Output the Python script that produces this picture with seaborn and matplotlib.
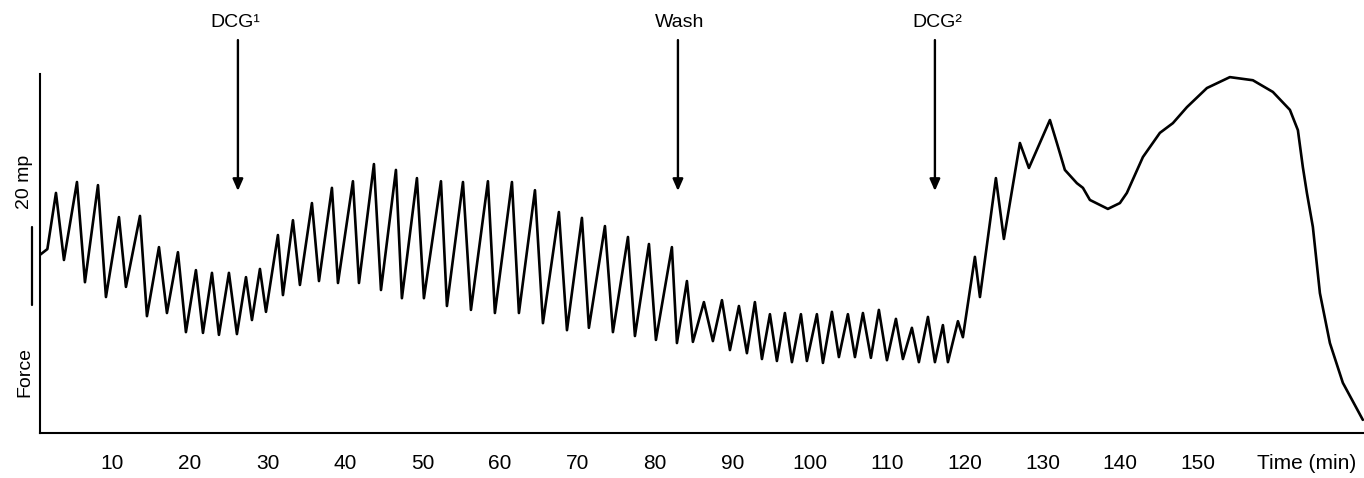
import numpy as np
import pandas as pd
import matplotlib
matplotlib.use("Agg")
import matplotlib.pyplot as plt
import seaborn as sns

# Trace: time in min, force in mp (peaks and troughs)
t_control = [0.7, 1.6, 2.71, 3.74, 5.42, 6.45, 8.13, 9.16, 10.84, 11.74, 13.55, 14.45,
             16.0, 17.03, 18.45, 19.48, 20.77, 21.68, 22.84, 23.74, 25.03, 26.06]
f_control = [45.0, 46.4, 60.8, 43.6, 63.6, 37.9, 62.8, 34.1, 54.6, 36.7, 54.9, 29.2,
             46.9, 30.0, 45.6, 25.1, 41.0, 24.9, 40.3, 24.4, 40.3, 24.6]

t_dcg1 = [27.23, 28.0, 29.03, 29.81, 31.35, 32.0, 33.29, 34.19, 35.74, 36.65,
          38.32, 39.1, 41.03, 41.81, 43.74, 44.65, 46.58, 47.35, 49.29, 50.19,
          52.39, 53.16, 55.23, 56.26, 58.45, 59.35, 61.55, 62.45, 64.52, 65.55,
          67.61, 68.65, 70.58, 71.48, 73.55, 74.58, 76.52, 77.42, 79.23, 80.13,
          82.19, 82.84]
f_dcg1 = [39.2, 28.2, 41.3, 30.3, 50.0, 34.6, 53.8, 37.2, 58.2, 38.2,
          62.1, 37.7, 63.8, 37.7, 68.2, 35.9, 66.7, 33.8, 64.6, 33.8,
          63.8, 31.8, 63.6, 30.8, 63.8, 30.0, 63.6, 30.0, 61.5, 27.4,
          55.9, 25.6, 54.4, 26.2, 52.3, 25.1, 49.5, 24.1, 47.7, 23.1,
          46.9, 22.3]

t_wash = [84.13, 84.9, 86.32, 87.48, 88.65, 89.68, 90.84, 91.87, 92.9, 93.81,
          94.84, 95.74, 96.77, 97.68, 98.84, 99.61, 100.9, 101.68, 102.84, 103.74,
          104.9, 105.81, 106.84, 107.87, 108.9, 109.94, 111.1, 112.0, 113.16, 114.06,
          115.23, 116.13]
f_wash = [38.2, 22.6, 32.8, 22.8, 33.3, 20.5, 31.8, 19.7, 32.8, 18.2,
          29.7, 17.7, 30.0, 17.4, 29.7, 17.7, 29.7, 17.2, 30.3, 18.7,
          29.7, 18.7, 30.0, 18.5, 30.8, 17.9, 28.5, 18.2, 26.2, 17.4,
          29.0, 17.4]

t_dcg2 = [117.16, 117.81, 119.1, 119.74, 121.29, 121.94, 124.0, 125.03, 127.1, 128.26,
          130.97, 131.87, 132.9, 134.45, 135.23, 136.13, 138.45, 140.0, 140.9, 142.97,
          145.16, 146.84, 148.65, 151.23, 154.19, 157.16, 159.74, 161.94, 162.97, 163.61,
          164.13, 164.9, 165.81, 167.1, 168.77, 171.35]
f_dcg2 = [26.9, 17.4, 27.9, 23.8, 44.4, 34.1, 64.6, 49.0, 73.6, 67.2,
          79.5, 73.6, 66.7, 63.3, 62.1, 59.0, 56.7, 58.2, 60.8, 70.0,
          76.2, 78.7, 82.8, 87.7, 90.5, 89.7, 86.7, 82.1, 76.9, 67.4,
          60.8, 52.1, 35.1, 22.3, 12.1, 2.6]

event_labels = ["DCG\u00b9", "Wash", "DCG\u00b2"]
event_times = [26.19, 82.97, 116.13]
event_label_times = [25.8, 83.2, 116.4]

tick_values = list(range(10, 180, 10))
tick_labels = [str(v) if v <= 150 else "" for v in tick_values]

df = pd.DataFrame({
    "time": np.concatenate([t_control, t_dcg1, t_wash, t_dcg2]),
    "force": np.concatenate([f_control, f_dcg1, f_wash, f_dcg2]),
})

sns.set_style("white")
plt.rcParams["font.family"] = ["Liberation Sans", "DejaVu Sans"]
plt.rcParams["text.color"] = "black"
plt.rcParams["xtick.color"] = "black"
plt.rcParams["ytick.color"] = "black"

fig = plt.figure(figsize=(13.64, 4.78), dpi=100)
ax = fig.add_axes([40 / 1364, 45 / 478, 1324 / 1364, 359 / 478])

sns.lineplot(data=df, x="time", y="force", ax=ax, color="black", lw=1.9,
             sort=False, estimator=None)
for ln in ax.lines:
    ln.set_solid_joinstyle("round")

ax.set_xlim(0.65, 171.5)
ax.set_ylim(-0.77, 91.3)
ax.set_xlabel("")
ax.set_ylabel("")
sns.despine(ax=ax)
for s in ["left", "bottom"]:
    ax.spines[s].set_linewidth(1.5)
    ax.spines[s].set_color("black")

ax.set_xticks(tick_values)
ax.set_xticklabels(tick_labels, fontsize=15)
ax.set_yticks([20, 40, 60, 80])
ax.set_yticklabels([])
ax.tick_params(axis="x", direction="in", length=3, width=1, pad=15)
ax.tick_params(axis="y", direction="in", length=3, width=1)

ax.text(164.1, -0.086, "Time (min)", transform=ax.get_xaxis_transform(),
        ha="center", va="center", fontsize=15)

# scale bar 20 mp and y labels
ax.plot([-0.39, -0.39], [32, 52], color="black", lw=1.6, clip_on=False)
ax.text(-1.3, 63.6, "20 mp", rotation=90, ha="center", va="center", fontsize=14)
ax.text(-1.3, 14.9, "Force", rotation=90, ha="center", va="center", fontsize=14)

# drug / wash markers
for lab, t, tl in zip(event_labels, event_times, event_label_times):
    ax.annotate("", xy=(t, 61.3), xytext=(t, 100), annotation_clip=False,
                arrowprops=dict(arrowstyle="-|>,head_length=0.5,head_width=0.22",
                                color="black", lw=1.7, shrinkA=0, shrinkB=0,
                                mutation_scale=14))
    ax.text(tl, 104.4, lab, ha="center", va="center", fontsize=14, clip_on=False)

fig.savefig("out.png", dpi=100)
plt.close(fig)
